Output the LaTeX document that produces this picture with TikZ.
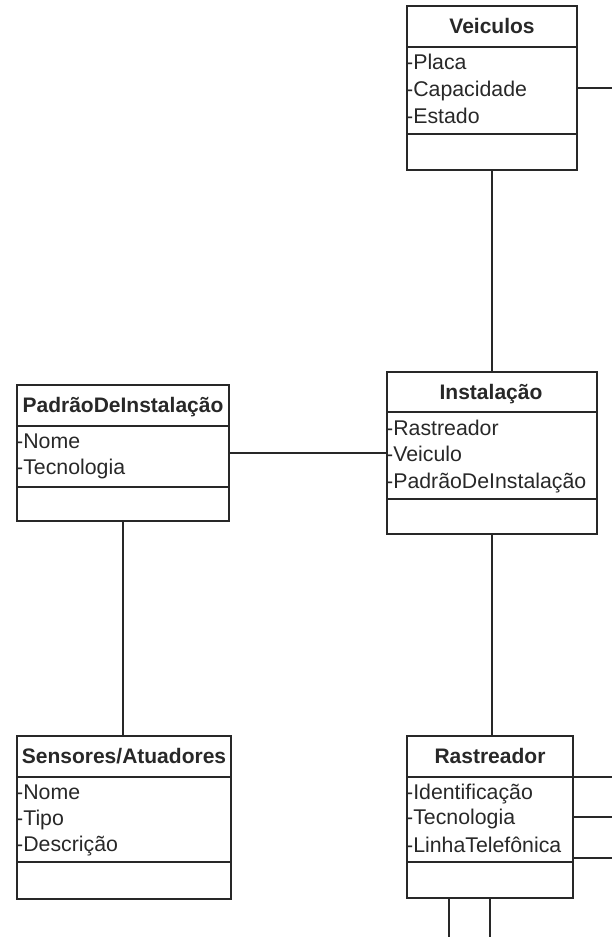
\documentclass[tikz,border=0pt]{standalone}
\usepackage{fontspec}
\setmainfont{Liberation Sans}
\definecolor{ink}{RGB}{40,40,40}
\tikzset{
  box/.style={draw=ink, line width=1.5pt, inner sep=0pt, outer sep=0pt, fill=white},
  sep/.style={draw=ink, line width=1.5pt},
  conn/.style={draw=ink, line width=1.5pt},
  ttl/.style={inner sep=0pt, text=ink, text height=15pt, text depth=0pt, font=\fontsize{21}{25}\selectfont\bfseries},
  attr/.style={inner sep=0pt, anchor=west, text=ink, text height=15pt, text depth=0pt, font=\fontsize{21.3}{25}\selectfont},
}
\begin{document}
\begin{tikzpicture}[x=1pt,y=-1pt]
\useasboundingbox[fill=white] (0,0) rectangle (612,937);

% Veiculos
\node[box, minimum width=170pt, minimum height=164pt] (veic) at (492,88) {};
\draw[sep] (407,47) -- (577,47);
\draw[sep] (407,134) -- (577,134);
\node[ttl] (veicT) at (492,26) {Veiculos};
\node[attr] (veicA1) at (406,62) {-Placa};
\node[attr] (veicA2) at (406,89) {-Capacidade};
\node[attr] (veicA3) at (406,116) {-Estado};

% Instalacao
\node[box, minimum width=210pt, minimum height=162pt] (inst) at (492,453) {};
\draw[sep] (387,412) -- (597,412);
\draw[sep] (387,499) -- (597,499);
\node[ttl] (instT) at (491,392) {Instalação};
\node[attr] (instA1) at (386,428) {-Rastreador};
\node[attr] (instA2) at (386,454) {-Veiculo};
\node[attr] (instA3) at (386,481) {-PadrãoDeInstalação};

% PadraoDeInstalacao
\node[box, minimum width=212pt, minimum height=136pt] (pad) at (123,453) {};
\draw[sep] (17,426) -- (229,426);
\draw[sep] (17,487) -- (229,487);
\node[ttl] (padT) at (123,405) {PadrãoDeInstalação};
\node[attr] (padA1) at (16,441) {-Nome};
\node[attr] (padA2) at (16,467) {-Tecnologia};

% Sensores/Atuadores
\node[box, minimum width=214pt, minimum height=163pt] (sens) at (124,817.5) {};
\draw[sep] (17,777) -- (231,777);
\draw[sep] (17,862) -- (231,862);
\node[ttl] (sensT) at (124,756) {Sensores/Atuadores};
\node[attr] (sensA1) at (16,792) {-Nome};
\node[attr] (sensA2) at (16,818) {-Tipo};
\node[attr] (sensA3) at (16,844) {-Descrição};

% Rastreador
\node[box, minimum width=166pt, minimum height=162pt] (rast) at (490,817) {};
\draw[sep] (407,777) -- (573,777);
\draw[sep] (407,862) -- (573,862);
\node[ttl] (rastT) at (490,756) {Rastreador};
\node[attr] (rastA1) at (406,792) {-Identificação};
\node[attr] (rastA2) at (406,817) {-Tecnologia};
\node[attr] (rastA3) at (406,845) {-LinhaTelefônica};

% free ends
\coordinate (vE) at (612,88);
\coordinate (rE1) at (612,777);
\coordinate (rE2) at (612,817);
\coordinate (rE3) at (612,858);
\coordinate (rB1) at (449,937);
\coordinate (rB2) at (490,937);

% connectors
\draw[conn] (veic.south) -- (veic.south |- inst.north);
\draw[conn] (inst.south) -- (inst.south |- rast.north);
\draw[conn] (pad.east) -- (inst.west);
\draw[conn] (pad.south) -- (pad.south |- sens.north);
\draw[conn] (veic.east) -- (vE);
\draw[conn] (rast.east |- rE1) -- (rE1);
\draw[conn] (rast.east) -- (rE2);
\draw[conn] (rast.east |- rE3) -- (rE3);
\draw[conn] (rB1 |- rast.south) -- (rB1);
\draw[conn] (rast.south) -- (rB2);
\end{tikzpicture}
\end{document}
